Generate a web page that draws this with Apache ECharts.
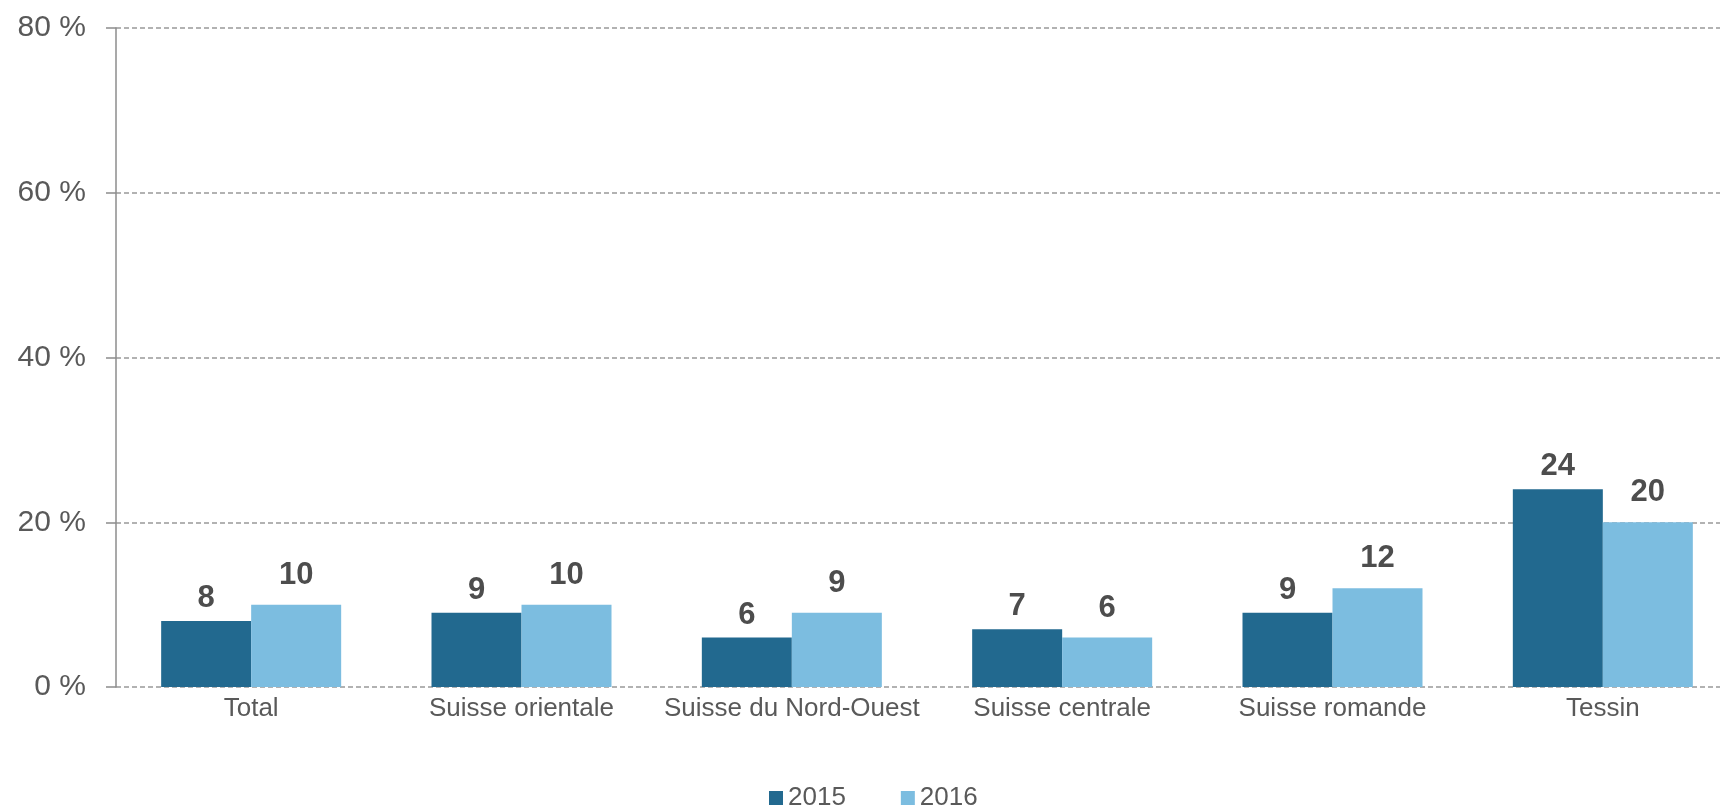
<!DOCTYPE html>
<html>
<head>
<meta charset="utf-8">
<script src="https://cdn.jsdelivr.net/npm/echarts@6/dist/echarts.min.js"></script>
<style>
  html, body { margin: 0; padding: 0; background: #fff; }
  #chart { width: 1720px; height: 808px; }
</style>
</head>
<body>
<div id="chart"></div>
<script>
const categories = ['Total', 'Suisse orientale', 'Suisse du Nord-Ouest', 'Suisse centrale', 'Suisse romande', 'Tessin'];
const values2015 = [8, 9, 6, 7, 9, 24];
const values2016 = [10, 10, 9, 6, 12, 20];
const yTicks = [0, 20, 40, 60, 80];

const chart = echarts.init(document.getElementById('chart'));

function labelStyle(dist) {
  return {
    show: true,
    position: 'top',
    distance: dist,
    fontFamily: 'Liberation Sans, Arial, sans-serif',
    fontSize: 31,
    fontWeight: 'bold',
    color: '#4d4d4d'
  };
}

chart.setOption({
  animation: false,
  textStyle: { fontFamily: 'Liberation Sans, Arial, sans-serif' },
  // plot area runs a bit past the right edge, like the original
  grid: { left: 116, width: 1622, top: 28, bottom: 121, containLabel: false, outerBoundsMode: 'none' },
  legend: {
    left: 769,
    top: 785,
    padding: 0,
    itemWidth: 14,
    itemHeight: 14,
    itemGap: 55,
    icon: 'rect',
    textStyle: { fontSize: 26, color: '#595959' },
    data: ['2015', '2016']
  },
  xAxis: {
    type: 'category',
    data: categories,
    axisLine: { show: false },
    axisTick: { show: false },
    axisLabel: { fontSize: 26, color: '#595959', margin: 9, interval: 0 }
  },
  yAxis: {
    type: 'value',
    min: yTicks[0],
    max: yTicks[yTicks.length - 1],
    interval: 20,
    axisLine: { show: true, lineStyle: { color: '#8c8c8c', width: 1.5 } },
    axisTick: { show: true, length: 10, lineStyle: { color: '#8c8c8c', width: 1.5 } },
    axisLabel: { fontSize: 30, color: '#595959', margin: 30, formatter: '{value} %' },
    splitLine: { show: true, lineStyle: { color: '#999999', type: [5, 3], width: 1.5 } }
  },
  series: [
    {
      name: '2015',
      type: 'bar',
      data: values2015,
      barWidth: 90,
      barGap: '0%',
      itemStyle: { color: '#22698f' },
      label: labelStyle(7)
    },
    {
      name: '2016',
      type: 'bar',
      data: values2016,
      barWidth: 90,
      barGap: '0%',
      itemStyle: { color: '#7cbde0' },
      label: labelStyle(14)
    }
  ]
});
</script>
</body>
</html>
